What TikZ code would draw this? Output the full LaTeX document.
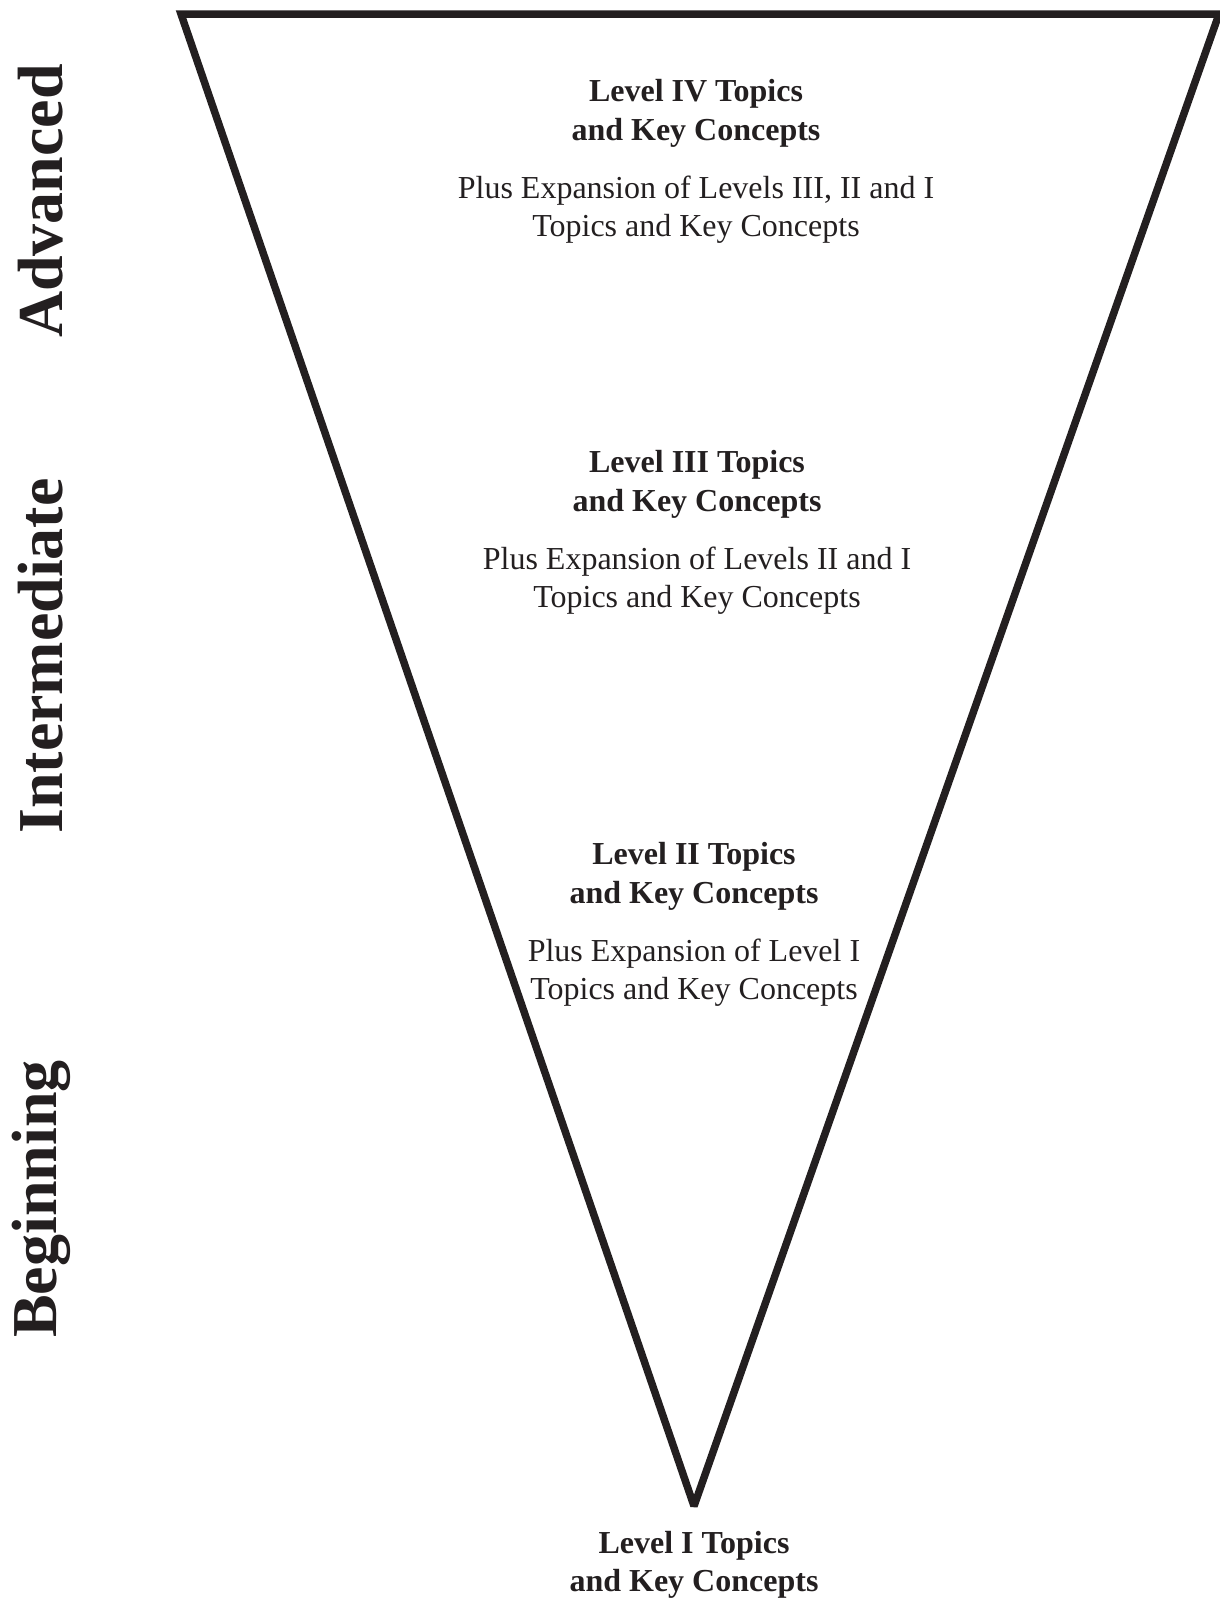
\documentclass[tikz,border=0pt]{standalone}
\usepackage{fontspec}
\setmainfont{Liberation Serif}
\definecolor{ink}{HTML}{231F20}
\begin{document}
\begin{tikzpicture}[x=1pt,y=-1pt,
  boldtxt/.style={text=ink, align=center, font=\fontsize{32}{38.5}\selectfont\bfseries, inner sep=0pt},
  plaintxt/.style={text=ink, align=center, font=\fontsize{32}{38.5}\selectfont, inner sep=0pt},
  sidetxt/.style={text=ink, rotate=90, font=\fontsize{64}{70}\selectfont\bfseries, inner sep=0pt}]
\useasboundingbox (0,0) rectangle (1220,1598);
\coordinate (tl) at (181,14);
\coordinate (tr) at (1219,14);
\coordinate (ap) at (694,1506);
\draw[ink, line width=7.5pt, line join=miter, miter limit=2] (tl) -- (tr) -- (ap) -- cycle;

\node[boldtxt] (l4) at (696,113.5) {Level IV Topics\\and Key Concepts};
\node[plaintxt] (l4p) at (696,209.5) {Plus Expansion of Levels III, II and I\\Topics and Key Concepts};
\node[boldtxt] (l3) at (697,484.5) {Level III Topics\\and Key Concepts};
\node[plaintxt] (l3p) at (697,580.5) {Plus Expansion of Levels II and I\\Topics and Key Concepts};
\node[boldtxt] (l2) at (694,876.5) {Level II Topics\\and Key Concepts};
\node[plaintxt] (l2p) at (694,972.5) {Plus Expansion of Level I\\Topics and Key Concepts};
\node[boldtxt] (l1) at (694,1565) {Level I Topics\\and Key Concepts};

\node[sidetxt] (adv) at (41,201) {Advanced};
\node[sidetxt] (int) at (41,656) {Intermediate};
\node[sidetxt] (beg) at (41,1199) {Beginning};
\end{tikzpicture}
\end{document}
